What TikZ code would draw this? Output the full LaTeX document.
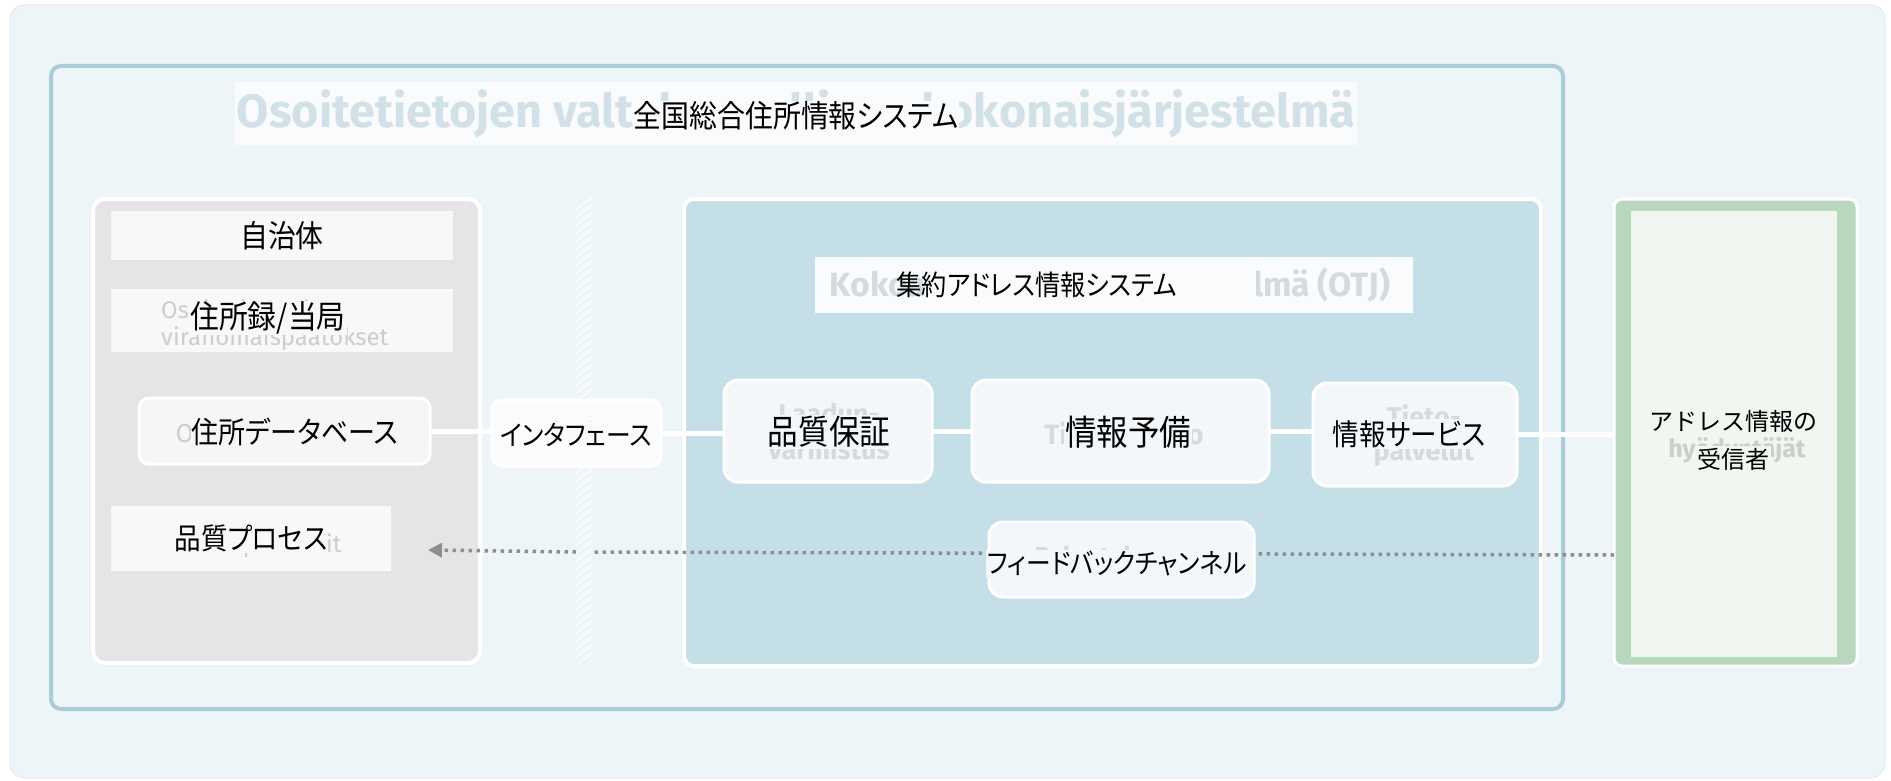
\documentclass[tikz,border=0pt]{standalone}
\usepackage{fontspec}
\usepackage{graphicx}
\usetikzlibrary{arrows.meta}
\newfontfamily\jpfont{Noto Sans CJK JP}[RawFeature=+palt, FakeStretch=0.9]
\newfontfamily\jpmono{Noto Sans CJK JP}
\newfontfamily\finfont{Fira Sans}
\definecolor{bgc}{HTML}{EEF5F8}
\definecolor{bgedge}{HTML}{E4ECEF}
\definecolor{framec}{HTML}{A9CCD8}
\definecolor{titlec}{HTML}{F9FBFC}
\definecolor{greyp}{HTML}{E6E4E6}
\definecolor{lightbox}{HTML}{F8F8F8}
\definecolor{dbbox}{HTML}{F5F6F7}
\definecolor{otjc}{HTML}{C5DFE8}
\definecolor{innerbox}{HTML}{F3F7F9}
\definecolor{greenc}{HTML}{B8D7BC}
\definecolor{greenin}{HTML}{F1F6F1}
\definecolor{finblue}{HTML}{D2E1E7}
\definecolor{fingrey}{HTML}{CDCDCD}
\definecolor{finsoft}{HTML}{D3DBDF}
\definecolor{dotc}{HTML}{8E8E8E}
\tikzset{
  plainbox/.style={rectangle, inner sep=0pt, outer sep=0pt},
  panel/.style={plainbox, draw=white, line width=4pt, rounded corners=12pt},
  flatbox/.style={plainbox, fill=lightbox},
  roundbox/.style={plainbox, fill=innerbox, draw=white, line width=3pt, rounded corners=14pt},
  jp/.style={font=\jpfont\fontsize{#1}{#1}\selectfont, text=black, inner sep=1pt},
  jp/.default=30,
  jprec/.style={font=\jpmono\fontsize{24}{28}\selectfont, text=black, inner sep=1pt},
  fin/.style={font=\finfont\bfseries\fontsize{26}{30}\selectfont, inner sep=0pt, align=center},
  link/.style={draw=white, line width=5pt},
  fbline/.style={draw=dotc, line width=3.5pt, dash pattern=on 3.5pt off 4.5pt},
  hatch/.style={draw=white, line width=1.3pt, opacity=0.85}
}
\begin{document}
\begin{tikzpicture}[x=1pt,y=-1pt]
\useasboundingbox (0,0) rectangle (1891,781);
% background and frame
\node[plainbox, fill=bgc, draw=bgedge, line width=1pt, rounded corners=14pt, minimum width=1875pt, minimum height=773pt] (bg) at (947.5,391.5) {};
\node[plainbox, draw=framec, line width=4pt, rounded corners=10pt, minimum width=1512pt, minimum height=643pt] (frame) at (807,387.5) {};
% title
\node[plainbox, fill=titlec, minimum width=1122pt, minimum height=63pt] (titlebox) at (796,113.5) {};
\node[fin, text=finblue] (titlefi) at (796,114) {\resizebox{1118pt}{!}{Osoitetietojen valtakunnallinen kokonaisjärjestelmä}};
\node[jp=31, fill=titlec] (titlejp) at (796,116) {全国総合住所情報システム};
% left panel (municipalities)
\node[panel, fill=greyp, minimum width=387pt, minimum height=464pt] (kunnat) at (286.5,431) {};
\node[flatbox, minimum width=342pt, minimum height=49pt] (jichibox) at (282,235.5) {};
\node[fin, text=fingrey] (jichifi) at (282,236) {Kunnat};
\node[jp=31, fill=lightbox] (jichijp) at (282,236) {自治体};
\node[flatbox, minimum width=342pt, minimum height=63pt] (jushobox) at (282,320.5) {};
\node[fin, text=fingrey, align=left, anchor=west, font=\finfont\fontsize{24}{27}\selectfont] (jushofi) at (161,325) {Osoitetiedot ja\\viranomaispäätökset};
\node[jp=32, fill=lightbox] (jushojp) at (268,318) {住所録/当局};
\node[roundbox, fill=dbbox, rounded corners=10pt, minimum width=291pt, minimum height=66pt] (db) at (284.5,431) {};
\node[fin, text=fingrey, font=\finfont\fontsize{26}{30}\selectfont] (dbfi) at (284,433) {Osoitetietovarasto};
\node[jp=30, fill=dbbox] (dbjp) at (295,432) {住所データベース};
\node[flatbox, minimum width=280pt, minimum height=65pt] (laatubox) at (251,538.5) {};
\node[fin, text=fingrey, font=\finfont\fontsize{24}{28}\selectfont] (laatufi) at (262,546) {Laatuprosessit};
\node[jp=29.5, fill=lightbox] (laatujp) at (251,538) {品質プロセス};
% hatched divider
\node[plainbox, minimum width=16pt, minimum height=464pt] (divider) at (584,429) {};
\begin{scope}
\clip (divider.north west) rectangle (divider.south east);
\foreach \k in {0,...,60} \draw[hatch] (576,{209+\k*8}) -- (592,{197+\k*8});
\end{scope}
% interface
\node[roundbox, fill=titlec, rounded corners=10pt, minimum width=169pt, minimum height=66pt] (iface) at (576.5,433) {};
\node[fin, text=finsoft, font=\finfont\fontsize{24}{28}\selectfont] (ifacefi) at (578,434) {Rajapinta};
\node[jp=27.5, fill=titlec] (ifacejp) at (576,435) {インタフェース};
% OTJ panel
\node[panel, fill=otjc, rounded corners=10pt, minimum width=857pt, minimum height=467pt] (otj) at (1112.5,432.5) {};
\node[plainbox, fill=titlec, minimum width=598pt, minimum height=56pt] (otjtitle) at (1114,285) {};
\node[fin, text=finsoft] (otjfi) at (1110,286) {\resizebox{560pt}{!}{Kokoava osoitetietojärjestelmä (OTJ)}};
\node[plainbox, fill=titlec, minimum width=331pt, minimum height=42pt] (otjpatch) at (1090,287) {};
\node[jp=28] (otjjp) at (1037,285) {集約アドレス情報システム};
\node[roundbox, minimum width=208pt, minimum height=102pt] (qa) at (828,431) {};
\node[fin, text=finsoft, font=\finfont\bfseries\fontsize{27}{36}\selectfont] (qafi) at (829,431) {Laadun-\\varmistus};
\node[jp=34, fill=innerbox] (qajp) at (829,432) {品質保証};
\node[roundbox, minimum width=297pt, minimum height=102pt] (store) at (1120.5,431) {};
\node[fin, text=finsoft, font=\finfont\bfseries\fontsize{28}{32}\selectfont] (storefi) at (1124,433) {Tietovarasto};
\node[jp=35, fill=innerbox] (storejp) at (1128,432) {情報予備};
\node[roundbox, minimum width=204pt, minimum height=103pt] (svc) at (1415,434.5) {};
\node[fin, text=finsoft, font=\finfont\bfseries\fontsize{27}{34}\selectfont] (svcfi) at (1424,436) {Tieto-\\palvelut};
\node[jp=29.5, fill=innerbox] (svcjp) at (1409,434) {情報サービス};
% recipients
\node[plainbox, fill=greenc, draw=white, line width=3pt, rounded corners=8pt, minimum width=243pt, minimum height=467pt] (recip) at (1735.5,432.5) {};
\node[plainbox, fill=greenin, minimum width=206pt, minimum height=446pt] (recipin) at (1734,434) {};
\node[fin, text=fingrey, font=\finfont\bfseries\fontsize{25}{30}\selectfont] (recipfi) at (1737,450) {hyödyntäjät};
\node[jprec, fill=greenin] (recipjp1) at (1733,421) {アドレス情報の};
\node[jprec, fill=greenin, inner sep=2pt] (recipjp2) at (1733,459) {受信者};
% connectors
\draw[link] (db.east) -- (db.east -| iface.west);
\draw[link] (iface.east) -- (iface.east -| qa.west);
\draw[link] (qa.east) -- (store.west);
\draw[link] (store.east) -- (store.east -| svc.west);
\draw[link] (svc.east) -- (svc.east -| recip.west);
% feedback channel (dotted arrow)
\coordinate (fbR) at (1614,555);
\coordinate (gapR) at (592,552);
\coordinate (gapL) at (576,552);
\coordinate (fbL) at (428,550);
\draw[fbline] (fbR) -- (gapR);
\draw[fbline, -{Triangle[length=14pt,width=14pt]}] (gapL) -- (fbL);
\node[roundbox, minimum width=265pt, minimum height=75pt] (fb) at (1121.5,559.5) {};
\node[fin, text=finsoft, font=\finfont\bfseries\fontsize{26}{30}\selectfont] (fbfi) at (1121,556) {Palautekanava};
\node[jp=27.5, fill=innerbox] (fbjp) at (1117,563) {フィードバックチャンネル};
\end{tikzpicture}
\end{document}
